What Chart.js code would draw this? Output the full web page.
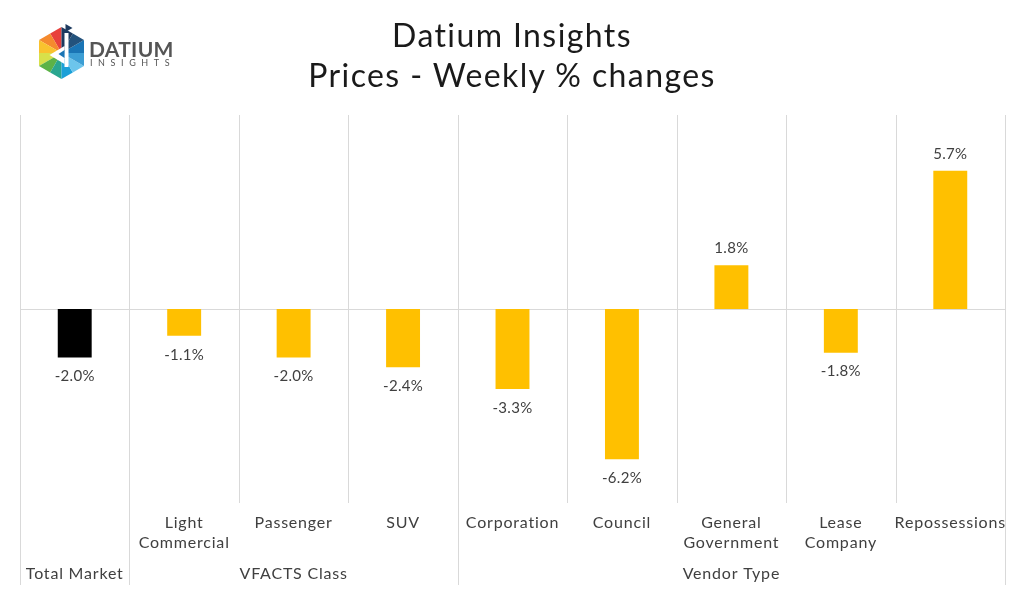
<!DOCTYPE html>
<html>
<head>
<meta charset="utf-8">
<script src="https://cdn.jsdelivr.net/npm/chart.js@4.4.0/dist/chart.umd.min.js"></script>
<style>
  html, body { margin: 0; padding: 0; background: #fff; }
  #wrap { position: relative; width: 1024px; height: 594px; overflow: hidden; }
  #c { position: absolute; left: 0; top: 0; }
  .title { position: absolute; left: 0; width: 1024px; text-align: center; font-family: "Lato", sans-serif; font-size: 32px; letter-spacing: 1.4px; color: #1a1a1a; line-height: 40px; }
  #logo { position: absolute; left: 34px; top: 24px; }
  .brand { position: absolute; font-family: "Lato", sans-serif; color: #555; }
</style>
</head>
<body>
<div id="wrap">
  <canvas id="c" width="1024" height="594"></canvas>
  <div class="title" style="top:15px">Datium Insights</div>
  <div class="title" style="top:55px">Prices - Weekly % changes</div>
  <svg id="logo" width="60" height="62" viewBox="0 0 60 62">
    <g transform="translate(27.5,29)">
      <polygon points="0,0 0,-26 -11.3,-19.5" fill="#e8413c"/>
      <polygon points="0,0 -11.3,-19.5 -22.5,-13" fill="#f58a2e"/>
      <polygon points="0,0 -22.5,-13 -22.5,0" fill="#f9c22e"/>
      <polygon points="0,0 -22.5,0 -22.5,13" fill="#d8e04a"/>
      <polygon points="0,0 -22.5,13 -11.3,19.5" fill="#5cb247"/>
      <polygon points="0,0 -11.3,19.5 0,26" fill="#2aa68f"/>
      <polygon points="0,0 0,26 11.3,19.5" fill="#1ba0d8"/>
      <polygon points="0,0 11.3,19.5 22.5,13" fill="#6cc5ec"/>
      <polygon points="0,0 22.5,13 22.5,0" fill="#3c9ed4"/>
      <polygon points="0,0 22.5,0 22.5,-13" fill="#1a75b5"/>
      <polygon points="0,0 22.5,-13 11.3,-19.5" fill="#23527c"/>
      <polygon points="0,0 11.3,-19.5 0,-26" fill="#1d3a5f"/>
      <polygon points="-12,2 3,-7 3,11" fill="#ffffff"/>
      <rect x="3" y="-20" width="4" height="34" fill="#ffffff"/>
      <polygon points="-3,1 3,-3 3,5" fill="#1a75b5"/>
      <polygon points="4,-29 11,-25 4,-21" fill="#1d3a5f"/>
    </g>
  </svg>
  <div class="brand" style="left:89px;top:36px;font-size:21px;font-weight:700;letter-spacing:0.3px;">DATIUM</div>
  <div class="brand" style="left:90px;top:57px;font-size:9px;letter-spacing:5.6px;">INSIGHTS</div>
</div>
<script>
// ---- data ----
const categories = ["", "Light Commercial", "Passenger", "SUV", "Corporation", "Council", "General Government", "Lease Company", "Repossessions"];
const categoryLines = [[""], ["Light", "Commercial"], ["Passenger"], ["SUV"], ["Corporation"], ["Council"], ["General", "Government"], ["Lease", "Company"], ["Repossessions"]];
const values = [-2.0, -1.1, -2.0, -2.4, -3.3, -6.2, 1.8, -1.8, 5.7];
const valueLabels = ["-2.0%", "-1.1%", "-2.0%", "-2.4%", "-3.3%", "-6.2%", "1.8%", "-1.8%", "5.7%"];
const groupLabels = ["Total Market", "VFACTS Class", "Vendor Type"];
const groupSizes = [1, 3, 5];

const FONT = '"Lato", sans-serif';
const TEXT = '#404040';
const GRID = '#d9d9d9';

const decorPlugin = {
  id: 'decor',
  beforeDatasetsDraw(chart) {
    const ctx = chart.ctx, x = chart.scales.x, y = chart.scales.y, a = chart.chartArea;
    const n = categories.length;
    const w = (a.right - a.left) / n;
    const groupBounds = new Set([0]);
    let acc = 0;
    groupSizes.forEach(s => { acc += s; groupBounds.add(acc); });
    ctx.save();
    ctx.strokeStyle = GRID;
    ctx.lineWidth = 1;
    for (let i = 0; i <= n; i++) {
      const px = Math.round(x.getPixelForValue(0) - w / 2 + i * w) + 0.5;
      ctx.beginPath();
      ctx.moveTo(px, a.top);
      ctx.lineTo(px, groupBounds.has(i) ? a.bottom + 82 : a.bottom);
      ctx.stroke();
    }
    const zy = Math.round(y.getPixelForValue(0)) + 0.5;
    ctx.beginPath();
    ctx.moveTo(a.left, zy);
    ctx.lineTo(a.right, zy);
    ctx.stroke();
    ctx.restore();
  },
  afterDatasetsDraw(chart) {
    const ctx = chart.ctx, x = chart.scales.x, y = chart.scales.y, a = chart.chartArea;
    ctx.save();
    ctx.fillStyle = TEXT;
    ctx.textAlign = 'center';
    ctx.textBaseline = 'middle';
    ctx.font = '15px ' + FONT;
    ctx.letterSpacing = '0.3px';
    values.forEach((v, i) => {
      const px = x.getPixelForValue(i);
      const py = y.getPixelForValue(v);
      ctx.fillText(valueLabels[i], px, v < 0 ? py + 19 : py - 17);
    });
    ctx.font = '16px ' + FONT;
    ctx.letterSpacing = '0.8px';
    categoryLines.forEach((lines, i) => {
      const px = x.getPixelForValue(i);
      lines.forEach((t, j) => ctx.fillText(t, px, a.bottom + 20 + j * 20));
    });
    let start = 0;
    groupSizes.forEach((s, g) => {
      const px = (x.getPixelForValue(start) + x.getPixelForValue(start + s - 1)) / 2;
      ctx.fillText(groupLabels[g], px, a.bottom + 71);
      start += s;
    });
    ctx.restore();
  }
};

new Chart(document.getElementById('c'), {
  type: 'bar',
  data: {
    labels: categories,
    datasets: [{
      data: values,
      backgroundColor: values.map((v, i) => i === 0 ? '#000000' : '#FFC000'),
      borderWidth: 0,
      barPercentage: 0.31,
      categoryPercentage: 1.0
    }]
  },
  options: {
    responsive: false,
    animation: false,
    devicePixelRatio: 1,
    layout: { padding: { left: 20, right: 19, top: 115, bottom: 91 } },
    plugins: { legend: { display: false }, tooltip: { enabled: false } },
    scales: {
      x: { display: false },
      y: { display: false, min: -8, max: 8 }
    }
  },
  plugins: [decorPlugin]
});
</script>
</body>
</html>
